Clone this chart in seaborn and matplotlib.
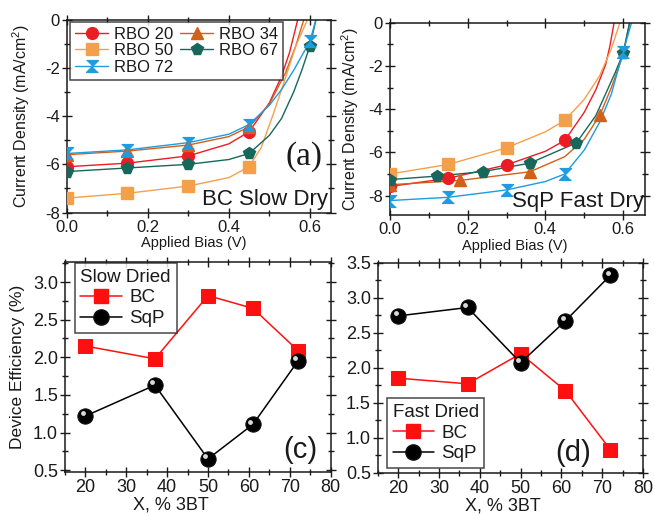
import numpy as np
import pandas as pd
import matplotlib
matplotlib.use("Agg")
import matplotlib.pyplot as plt
import matplotlib.transforms as mtransforms
import seaborn as sns
from matplotlib.lines import Line2D
from matplotlib.ticker import MultipleLocator

# ---------------- data ----------------
rbo_labels = ["RBO 20", "RBO 34", "RBO 50", "RBO 67", "RBO 72"]
rbo_colors = ["#ec1c24", "#d2601a", "#f4a04a", "#17675a", "#1d9ce0"]
rbo_markers = ["o", "^", "s", "p", [(-1, 1), (1, 1), (-1, -1), (1, -1)]]

# panel (a): BC slow dry – marker points
a20_v = [0.0, 0.15, 0.30, 0.45]
a20_j = [-6.10, -5.95, -5.65, -4.65]
a34_v = [0.0, 0.15, 0.30, 0.45]
a34_j = [-5.60, -5.45, -5.20, -4.45]
a50_v = [0.0, 0.15, 0.30, 0.45]
a50_j = [-7.40, -7.20, -6.90, -6.10]
a67_v = [0.0, 0.15, 0.30, 0.45, 0.60]
a67_j = [-6.30, -6.15, -6.00, -5.55, -1.10]
a72_v = [0.0, 0.15, 0.30, 0.45, 0.60]
a72_j = [-5.55, -5.40, -5.10, -4.35, -0.90]
# panel (a): fitted curves
a20_cv = [0.0, 0.15, 0.30, 0.40, 0.45, 0.50, 0.53, 0.55, 0.57]
a20_cj = [-6.10, -5.95, -5.65, -5.15, -4.65, -3.45, -2.35, -1.35, 0.0]
a34_cv = [0.0, 0.15, 0.30, 0.40, 0.45, 0.50, 0.54, 0.565, 0.585]
a34_cj = [-5.60, -5.45, -5.20, -4.85, -4.45, -3.50, -2.20, -1.10, 0.0]
a50_cv = [0.0, 0.15, 0.30, 0.40, 0.45, 0.48, 0.51, 0.54, 0.565, 0.594]
a50_cj = [-7.40, -7.20, -6.90, -6.55, -6.10, -5.30, -3.90, -2.40, -1.10, 0.0]
a67_cv = [0.0, 0.15, 0.30, 0.40, 0.45, 0.50, 0.53, 0.56, 0.58, 0.60, 0.615]
a67_cj = [-6.30, -6.15, -6.00, -5.80, -5.55, -4.80, -4.10, -3.00, -2.10, -1.10, 0.0]
a72_cv = [0.0, 0.15, 0.30, 0.40, 0.45, 0.50, 0.53, 0.56, 0.58, 0.60, 0.615]
a72_cj = [-5.55, -5.40, -5.10, -4.75, -4.35, -3.55, -2.90, -2.10, -1.50, -0.90, 0.0]

# panel (b): SqP fast dry – marker points
b20_v = [0.0, 0.15, 0.30, 0.45]
b20_j = [-7.58, -7.20, -6.58, -5.45]
b34_v = [0.0, 0.18, 0.36, 0.54]
b34_j = [-7.50, -7.30, -6.90, -4.29]
b50_v = [0.0, 0.15, 0.30, 0.45]
b50_j = [-7.00, -6.56, -5.79, -4.52]
b67_v = [0.0, 0.12, 0.24, 0.36, 0.48, 0.60]
b67_j = [-7.26, -7.10, -6.89, -6.50, -5.56, -1.42]
b72_v = [0.0, 0.15, 0.30, 0.45, 0.60]
b72_j = [-8.23, -8.08, -7.74, -7.00, -1.35]
# panel (b): fitted curves
b20_cv = [0.0, 0.15, 0.30, 0.40, 0.45, 0.50, 0.53, 0.555, 0.566, 0.577]
b20_cj = [-7.58, -7.20, -6.58, -5.95, -5.45, -4.15, -3.10, -1.95, -1.10, 0.0]
b34_cv = [0.0, 0.18, 0.36, 0.45, 0.50, 0.54, 0.57, 0.60, 0.617]
b34_cj = [-7.50, -7.30, -6.90, -6.20, -5.40, -4.29, -3.00, -1.50, 0.0]
b50_cv = [0.0, 0.15, 0.30, 0.40, 0.45, 0.50, 0.54, 0.57, 0.592]
b50_cj = [-7.00, -6.56, -5.79, -5.05, -4.52, -3.55, -2.45, -1.20, 0.0]
b67_cv = [0.0, 0.12, 0.24, 0.36, 0.48, 0.53, 0.56, 0.58, 0.60, 0.617]
b67_cj = [-7.26, -7.10, -6.89, -6.50, -5.56, -4.30, -3.10, -2.30, -1.42, 0.0]
b72_cv = [0.0, 0.15, 0.30, 0.40, 0.45, 0.50, 0.54, 0.57, 0.60, 0.622]
b72_cj = [-8.23, -8.08, -7.74, -7.35, -7.00, -5.90, -4.60, -3.30, -1.35, 0.0]

# panels (c) and (d): efficiency vs % 3BT
x_3bt = [20, 37, 50, 61, 72]
slow_bc = [2.15, 1.98, 2.82, 2.65, 2.09]
slow_sqp = [1.22, 1.63, 0.65, 1.11, 1.95]
fast_bc = [1.85, 1.77, 2.20, 1.67, 0.83]
fast_sqp = [2.74, 2.86, 2.07, 2.67, 3.32]

# ---------------- style ----------------
sns.set_style("ticks")
plt.rcParams["font.family"] = ["Liberation Sans", "DejaVu Sans"]
plt.rcParams["mathtext.fontset"] = "custom"
plt.rcParams["mathtext.rm"] = "Liberation Sans"
plt.rcParams["axes.linewidth"] = 1.1
plt.rcParams["axes.edgecolor"] = "#1a1a1a"
TXT = "#1a1a1a"

fig = plt.figure(figsize=(6.55, 5.16), dpi=100)
ax_a = fig.add_axes([0.1018, 0.588, 0.4035, 0.374])
ax_b = fig.add_axes([0.5954, 0.5833, 0.389, 0.3727])
ax_c = fig.add_axes([0.0992, 0.0858, 0.4056, 0.407])
ax_d = fig.add_axes([0.577, 0.0839, 0.4046, 0.407])


def style_ticks(ax, fs):
    ax.tick_params(which="both", direction="inout", top=True, right=True,
                   labelsize=fs, width=1.0, colors=TXT, pad=1.5)
    ax.tick_params(which="major", length=7)
    ax.tick_params(which="minor", length=4.5)


def jv_panel(ax, mv, mj, cv, cj, ylim, xlim):
    for k in range(5):
        sns.lineplot(x=cv[k], y=cj[k], ax=ax, color=rbo_colors[k], lw=1.0,
                     sort=False, estimator=None, legend=False)
    for k in range(5):
        ax.plot(mv[k], mj[k], ls="none", marker=rbo_markers[k], ms=8.5,
                color=rbo_colors[k], mec=rbo_colors[k], zorder=3)
    ax.set_xlim(*xlim)
    ax.set_ylim(*ylim)
    ax.xaxis.set_minor_locator(MultipleLocator(0.1))
    ax.yaxis.set_minor_locator(MultipleLocator(1))
    ax.set_xticks([0.0, 0.2, 0.4, 0.6])
    ax.set_xticklabels(["0.0", "0.2", "0.4", "0.6"])
    ax.set_yticks([0, -2, -4, -6, -8])
    ax.set_yticklabels(["0", "-2", "-4", "-6", "-8"])
    style_ticks(ax, 12)
    ax.set_xlabel("Applied Bias (V)", fontsize=10.5, color=TXT)
    ax.set_ylabel("Current Density (mA/cm$^2$)", fontsize=11.5, color=TXT)


jv_panel(ax_a,
         [a20_v, a34_v, a50_v, a67_v, a72_v], [a20_j, a34_j, a50_j, a67_j, a72_j],
         [a20_cv, a34_cv, a50_cv, a67_cv, a72_cv], [a20_cj, a34_cj, a50_cj, a67_cj, a72_cj],
         (-8, 0), (0, 0.652))
jv_panel(ax_b,
         [b20_v, b34_v, b50_v, b67_v, b72_v], [b20_j, b34_j, b50_j, b67_j, b72_j],
         [b20_cv, b34_cv, b50_cv, b67_cv, b72_cv], [b20_cj, b34_cj, b50_cj, b67_cj, b72_cj],
         (-8.9, 0), (0, 0.656))

ax_a.xaxis.set_label_coords(0.48, -0.12)
ax_a.yaxis.set_label_coords(-0.13, 0.5)
ax_b.xaxis.set_label_coords(0.49, -0.125)
ax_b.yaxis.set_label_coords(-0.114, 0.5)

# legend in (a)
order = [0, 2, 4, 1, 3]
handles = [Line2D([], [], color=rbo_colors[k], marker=rbo_markers[k], ms=8.5,
                  lw=1.0, mec=rbo_colors[k]) for k in order]
leg = ax_a.legend(handles, [rbo_labels[k] for k in order], ncol=2,
                  loc="upper left", bbox_to_anchor=(0.012, 0.99), borderaxespad=0,
                  fontsize=12, frameon=True, fancybox=False, edgecolor=TXT,
                  handlelength=2.0, handletextpad=0.35, columnspacing=0.4,
                  labelspacing=0.1, borderpad=0.3)
leg.get_frame().set_linewidth(1.1)
for t in leg.get_texts():
    t.set_color(TXT)

ax_a.text(0.898, 0.29, "(a)", transform=ax_a.transAxes, ha="center", va="center",
          fontsize=24, family=["Liberation Serif", "DejaVu Serif"], color=TXT)
ax_a.text(0.99, 0.04, "BC Slow Dry", transform=ax_a.transAxes, ha="right",
          va="baseline", fontsize=16, color=TXT)
ax_b.text(0.995, 0.04, "SqP Fast Dry", transform=ax_b.transAxes, ha="right",
          va="baseline", fontsize=16, color=TXT)


def eff_panel(ax, bc, sqp, title, ylim, yticks, leg_loc, leg_anchor):
    df = pd.DataFrame({"x": x_3bt * 2, "eff": bc + sqp,
                       "series": ["BC"] * len(bc) + ["SqP"] * len(sqp)})
    sns.lineplot(data=df[df.series == "BC"], x="x", y="eff", ax=ax, color="#ff1010",
                 lw=1.1, marker="s", ms=10.5, mec="#ff1010", legend=False, zorder=3)
    sns.lineplot(data=df[df.series == "SqP"], x="x", y="eff", ax=ax, color="black",
                 lw=1.1, marker="o", ms=11, mec="#111111", legend=False, zorder=3)
    # glossy highlight on the spheres
    off = mtransforms.offset_copy(ax.transData, fig=fig, x=-2.0, y=2.0, units="points")
    ax.plot(x_3bt, sqp, ls="none", marker="o", ms=3.5, color="#d8d8d8", mec="none",
            transform=off, zorder=4)
    ax.set_xlim(15, 80)
    ax.set_ylim(*ylim)
    ax.xaxis.set_major_locator(MultipleLocator(10))
    ax.xaxis.set_minor_locator(MultipleLocator(5))
    ax.set_yticks(yticks)
    ax.set_yticklabels([f"{t:.1f}" for t in yticks])
    ax.yaxis.set_minor_locator(MultipleLocator(0.25))
    style_ticks(ax, 13)
    ax.set_xlabel("X, % 3BT", fontsize=13, color=TXT)
    ax.set_ylabel("")
    hs = [Line2D([], [], color="#ff1010", marker="s", ms=10.5, lw=1.1, mec="#ff1010"),
          Line2D([], [], color="black", marker="o", ms=11, lw=1.1, mec="#111111")]
    lg = ax.legend(hs, ["BC", "SqP"], title=title, loc=leg_loc,
                   bbox_to_anchor=leg_anchor, borderaxespad=0, fontsize=13.5,
                   title_fontsize=13.5, frameon=True, fancybox=False,
                   edgecolor=TXT, handlelength=2.2, handletextpad=0.4,
                   labelspacing=0.2, borderpad=0.3, alignment="left")
    lg.get_frame().set_linewidth(1.1)
    for t in lg.get_texts():
        t.set_color(TXT)
    lg.get_title().set_color(TXT)


eff_panel(ax_c, slow_bc, slow_sqp, "Slow Dried", (0.48, 3.27),
          [0.5, 1.0, 1.5, 2.0, 2.5, 3.0], "upper left", (0.037, 0.994))
eff_panel(ax_d, fast_bc, fast_sqp, "Fast Dried", (0.5, 3.5),
          [0.5, 1.0, 1.5, 2.0, 2.5, 3.0, 3.5], "lower left", (0.034, 0.022))

ax_c.set_ylabel("Device Efficiency (%)", fontsize=12.5, color=TXT)
ax_c.yaxis.set_label_coords(-0.15, 0.5)
ax_c.xaxis.set_label_coords(0.40, -0.118)
ax_d.xaxis.set_label_coords(0.47, -0.118)

ax_c.text(0.885, 0.103, "(c)", transform=ax_c.transAxes, ha="center", va="center",
          fontsize=21, color=TXT)
ax_d.text(0.736, 0.094, "(d)", transform=ax_d.transAxes, ha="center", va="center",
          fontsize=21, color=TXT)

fig.savefig("out.png", dpi=100)
